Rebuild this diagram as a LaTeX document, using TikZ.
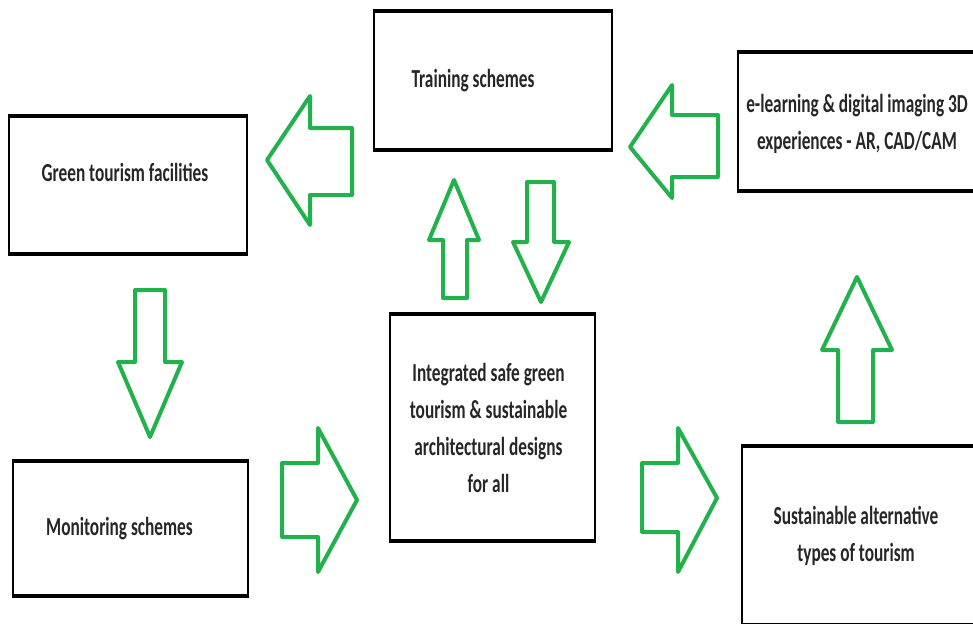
\documentclass[tikz,border=0pt]{standalone}
\usepackage{fontspec}
\newfontfamily\boxfont[FakeStretch=0.665]{Carlito}
\usepackage{tikz}
\definecolor{flowgreen}{RGB}{34,177,76}

\begin{document}
\begin{tikzpicture}[x=1pt,y=-1pt,
  stage/.style={draw,line width=1.5pt,inner sep=0pt},
  caption/.style={font=\boxfont\bfseries\fontsize{26}{37}\selectfont,align=center,text=black!85},
  rim/.style={line width=4pt},
  flow/.style={draw=flowgreen,line width=4pt,line join=round}]
  \useasboundingbox (0,0) rectangle (973,623);
  \clip (0,0) rectangle (973,623);
  % boxes
  \node[stage,minimum width=238pt,minimum height=136pt,
    label={[caption,xshift=-3pt,yshift=13pt]center:Green tourism facilities}] (gtf) at (128,185) {};
  \node[stage,minimum width=238pt,minimum height=137pt,
    label={[caption,xshift=-20pt]center:Training schemes}] (train) at (493,80.5) {};
  \node[stage,minimum width=238pt,minimum height=137pt,
    label={[caption,yshift=-2.5pt]center:e-learning \& digital imaging 3D\\experiences - AR, CAD/CAM}] (elearn) at (857,121.5) {};
  \node[stage,minimum width=205pt,minimum height=225pt,
    label={[caption,xshift=-4pt]center:Integrated safe green\\tourism \& sustainable\\architectural designs\\for all}] (integ) at (492.5,427.5) {};
  \node[stage,minimum width=235pt,minimum height=133pt,
    label={[caption,xshift=-11pt]center:Monitoring schemes}] (monit) at (130.5,528.5) {};
  \node[stage,minimum width=234pt,minimum height=177pt,
    label={[caption,xshift=-3pt]center:Sustainable alternative\\types of tourism}] (sust) at (859,535.5) {};
  % heavier top and bottom edges
  \foreach \n in {gtf,train,elearn,integ,monit,sust} {
    \draw[rim] (\n.north west) -- (\n.north east);
    \draw[rim] (\n.south west) -- (\n.south east);
  }
  % block arrows: left, training -> green tourism
  \draw[flow] (267,160) -- (310,96) -- (310,128) -- (352,128) -- (352,195) -- (310,195) -- (310,225) -- cycle;
  % left, e-learning -> training
  \draw[flow] (630,147) -- (672,85) -- (672,115) -- (718,115) -- (718,177) -- (672,177) -- (672,198) -- cycle;
  % up and down between training and integrated
  \draw[flow] (454,180) -- (479,240) -- (467,240) -- (467,298) -- (443,298) -- (443,240) -- (429,240) -- cycle;
  \draw[flow] (527,182) -- (554,182) -- (554,242) -- (569,242) -- (541,302) -- (513,242) -- (527,242) -- cycle;
  % down, green tourism -> monitoring
  \draw[flow] (135,290) -- (165,290) -- (165,362) -- (182,362) -- (150,437) -- (118,362) -- (135,362) -- cycle;
  % right, monitoring -> integrated -> sustainable
  \draw[flow] (282,463) -- (318,463) -- (318,428) -- (357,500) -- (318,572) -- (318,537) -- (282,537) -- cycle;
  \draw[flow] (642,463) -- (678,463) -- (678,428) -- (717,498) -- (678,572) -- (678,532) -- (642,532) -- cycle;
  % up, sustainable -> e-learning
  \draw[flow] (857,277) -- (892,350) -- (873,350) -- (873,422) -- (838,422) -- (838,350) -- (822,350) -- cycle;
\end{tikzpicture}
\end{document}
